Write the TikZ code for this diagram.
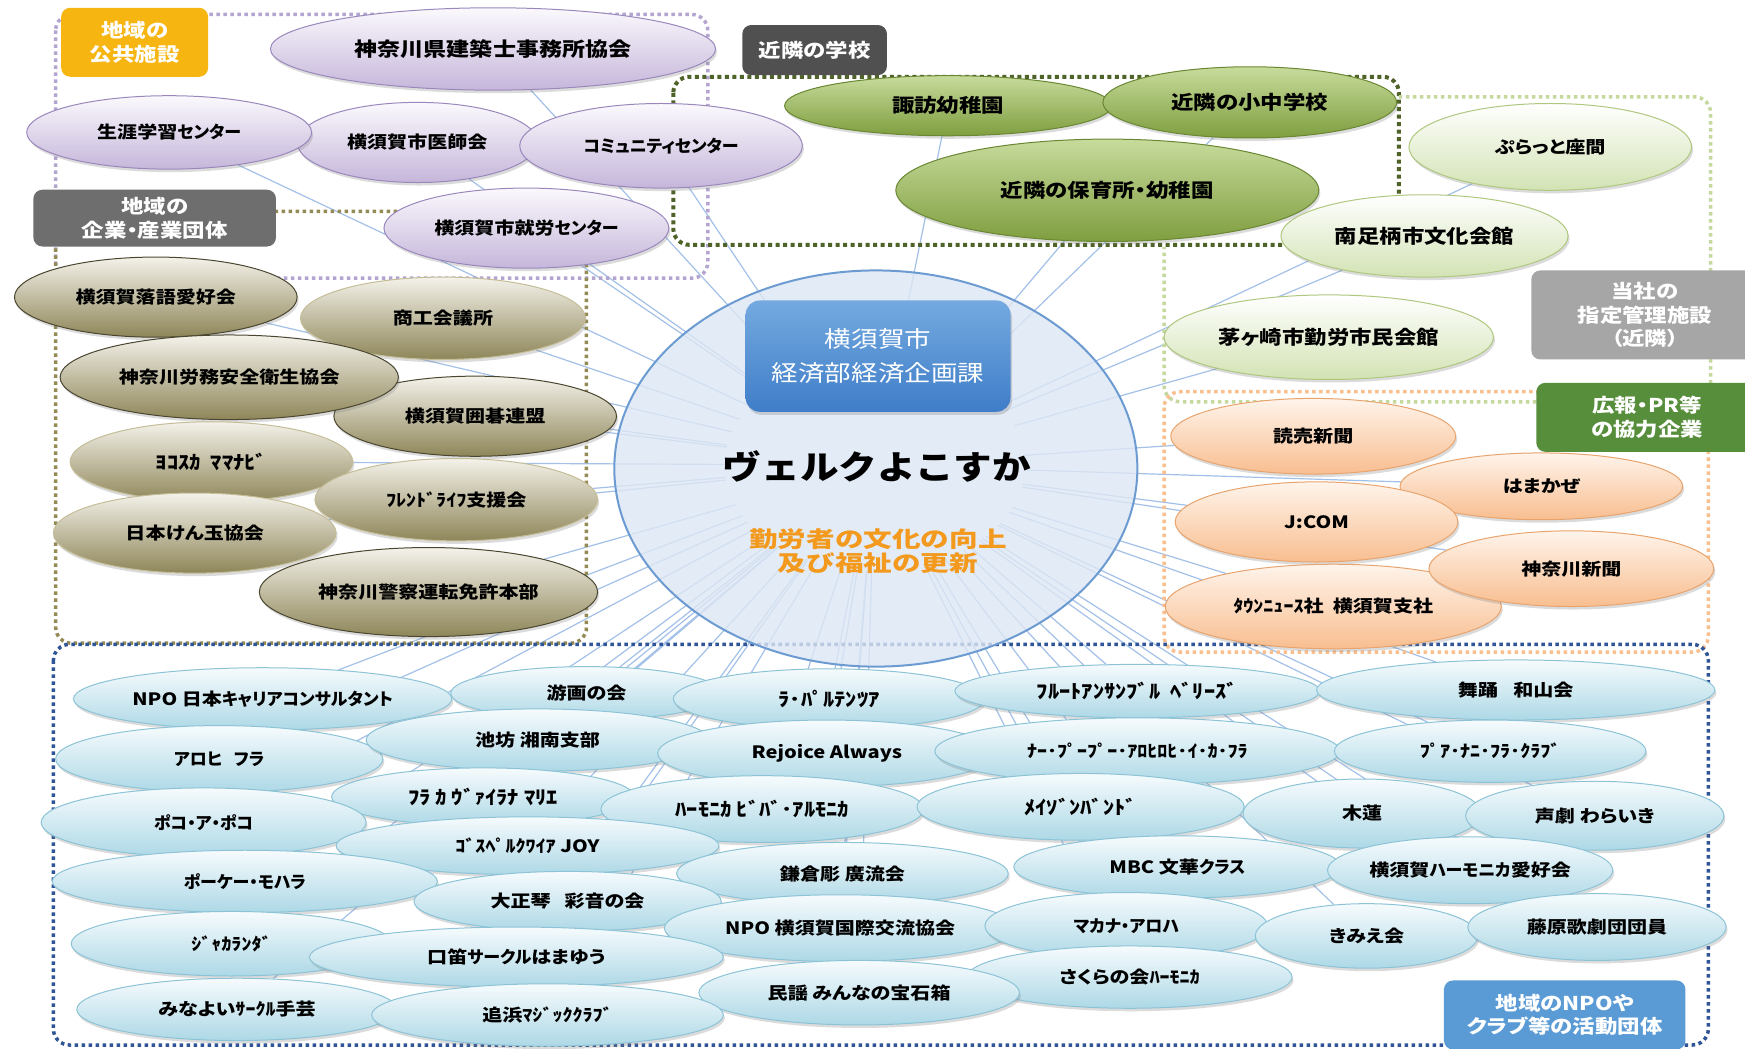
\documentclass[tikz,border=0pt]{standalone}
\usepackage{fontspec}
\usetikzlibrary{shapes.geometric,shadows}
\newfontfamily\jp{Noto Sans CJK JP}[RawFeature=+palt,FakeStretch=1.18]
\newfontfamily\jpk{Noto Sans CJK JP}[RawFeature=+palt,FakeStretch=1.0]
\newfontfamily\jpm{Noto Sans CJK JP}[FakeStretch=1.17]
\newfontfamily\jps{Noto Sans CJK JP}[FakeStretch=1.3]
\newcommand\knx[1]{{\jpk #1}}
\definecolor{puT}{HTML}{FBF9FD}\definecolor{puB}{HTML}{C5B6DA}\definecolor{puD}{HTML}{9A88BC}
\definecolor{olT}{HTML}{F4F2EA}\definecolor{olB}{HTML}{8E8659}\definecolor{olD}{HTML}{4A4630}\definecolor{olL}{HTML}{C4BD97}
\definecolor{dgT}{HTML}{C7DB9C}\definecolor{dgB}{HTML}{7F9E3F}\definecolor{dgD}{HTML}{6A8733}
\definecolor{lgT}{HTML}{FFFFFF}\definecolor{lgB}{HTML}{D3E3B4}\definecolor{lgD}{HTML}{AFC77F}
\definecolor{orT}{HTML}{FFF4EB}\definecolor{orB}{HTML}{F8BE90}\definecolor{orD}{HTML}{E8A46E}
\definecolor{blT}{HTML}{F6FBFD}\definecolor{blB}{HTML}{ADD8E6}\definecolor{blD}{HTML}{8CC3D6}
\definecolor{connC}{HTML}{A3C1E8}
\definecolor{gPu}{HTML}{B3A5CF}\definecolor{gOl}{HTML}{948A54}\definecolor{gDg}{HTML}{4F6228}
\definecolor{gLg}{HTML}{C5D89E}\definecolor{gOr}{HTML}{F9BF8F}\definecolor{gBl}{HTML}{2F5597}
\definecolor{labOr}{HTML}{F7B512}\definecolor{labG1}{HTML}{6E6E6E}\definecolor{labG2}{HTML}{505050}
\definecolor{labG3}{HTML}{A6A6A6}\definecolor{labGr}{HTML}{578E3C}\definecolor{labBl}{HTML}{5B9BD5}
\definecolor{ctrT}{HTML}{74AAE0}\definecolor{ctrB}{HTML}{3F7DC8}
\definecolor{discF}{HTML}{DDE7F4}\definecolor{discD}{HTML}{6C9BD2}\definecolor{subC}{HTML}{F39A1E}
\pgfdeclarelayer{bg}\pgfdeclarelayer{lines}\pgfdeclarelayer{groups}\pgfdeclarelayer{disc}
\pgfsetlayers{bg,lines,groups,disc,main}
\tikzset{
 sz/.style 2 args={minimum width={2.2258pt*#1},minimum height={2.2258pt*#2}},
 bx/.style 2 args={minimum width={1.1129pt*#1},minimum height={1.1129pt*#2}},
 el/.style={ellipse,inner sep=0pt,line width=1pt,font=\jp\bfseries\fontsize{17}{19}\selectfont,
   drop shadow={opacity=0.28,shadow xshift=1.5pt,shadow yshift=-3pt}},
 bigtxt/.style={font=\jp\bfseries\fontsize{19}{21}\selectfont},
 hw/.style={font=\jp\bfseries\fontsize{19}{21}\selectfont},
 pu/.style={el,draw=puD,top color=puT,bottom color=puB},
 ol/.style={el,draw=olL,top color=olT,bottom color=olB},
 olk/.style={el,draw=olD,top color=olT,bottom color=olB},
 dg/.style={el,bigtxt,draw=dgD,top color=dgT,bottom color=dgB},
 lg/.style={el,bigtxt,draw=lgD,top color=lgT,bottom color=lgB},
 orx/.style={el,draw=orD,top color=orT,bottom color=orB},
 bl/.style={el,draw=blD,top color=blT,bottom color=blB},
 lab/.style={rectangle,rounded corners=9pt,inner sep=0pt,text=white,align=center,
   font=\jp\bfseries\fontsize{19}{23.5}\selectfont},
 grp/.style={line width=3.5pt,dash pattern=on 3.5pt off 3.5pt,rounded corners=16pt},
 conn/.style={draw=connC,line width=1.2pt},
}
\begin{document}
\begin{tikzpicture}[x=1.1129pt,y=-1.1129pt]
\useasboundingbox (0,0) rectangle (1568,942);
\begin{pgfonlayer}{bg}
\fill[white] (0,0) rectangle (1568,942);
\end{pgfonlayer}
% group frames
\begin{pgfonlayer}{groups}
\draw[grp,gPu] (50,13) rectangle (636,250);
\draw[grp,gOl] (50,190) rectangle (527,578);
\draw[grp,gDg,line width=4pt,dash pattern=on 4pt off 3.5pt] (605,69) rectangle (1257,220);
\draw[grp,gLg] (1257,87) -- (1537,87) -- (1537,361) -- (1046,361) -- (1046,222);
\draw[grp,gOr] (1046,352) rectangle (1535,586);
\draw[grp,gBl] (48,579) rectangle (1535,939);
\end{pgfonlayer}
% centre
\node[ellipse,inner sep=0pt,minimum width=300pt,minimum height=211pt] (core) at (786,418) {};
\begin{pgfonlayer}{disc}
\node[ellipse,inner sep=0pt,sz={235}{178},fill=discF,fill opacity=0.8,draw=discD,line width=2pt] (disc) at (787,421) {};
\end{pgfonlayer}
\node[rectangle,rounded corners=14pt,bx={238}{100},top color=ctrT,bottom color=ctrB,text=white,align=center,
  font=\jp\fontsize{22.5}{34.5}\selectfont,drop shadow={opacity=0.3,shadow xshift=1.5pt,shadow yshift=-3pt}]
  (ctr) at (789,320) {横須賀市\\経済部経済企画課};
\node[font=\jpm\bfseries\fontsize{33}{36}\selectfont] (title) at (788,419) {ヴェルクよこすか};
\node[font=\jps\bfseries\fontsize{22}{24}\selectfont,text=subC,align=center] (sub) at (789,495) {勤労者の文化の向上\\及び福祉の更新};
% public facilities
\node[pu,sz={200}{37},font=\jp\bfseries\fontsize{19.5}{22}\selectfont] (p1) at (443,44) {神奈川県建築士事務所協会};
\node[pu,sz={108}{36}] (p3) at (375,128) {横須賀市医師会};
\node[pu,sz={128}{33}] (p2) at (152,119) {生涯学習\knx{センター}};
\node[pu,sz={127}{38}] (p4) at (594,131) {\knx{コミュニティセンター}};
\node[pu,sz={128}{36}] (p5) at (473,205) {横須賀市就労\knx{センター}};
% enterprises
\node[ol,sz={128}{37}] (o2) at (398,286) {商工会議所};
\node[olk,sz={127}{36}] (o1) at (140,267) {横須賀落語愛好会};
\node[olk,sz={127}{36}] (o4) at (427,374) {横須賀囲碁連盟};
\node[olk,sz={152}{38}] (o3) at (206,339) {神奈川労務安全衛生協会};
\node[ol,sz={127}{36},hw] (o5) at (190,415) {ﾖｺｽｶ\ \ ﾏﾏﾅﾋﾞ};
\node[ol,sz={127}{37}] (o6) at (410,449) {ﾌﾚﾝﾄﾞﾗｲﾌ支援会};
\node[ol,sz={127}{36}] (o7) at (175,479) {日本けん玉協会};
\node[olk,sz={152}{40}] (o8) at (385,532) {神奈川警察運転免許本部};
% schools
\node[dg,sz={147}{27}] (g1) at (852,95) {諏訪幼稚園};
\node[dg,sz={132}{32}] (g2) at (1123,92) {近隣の小中学校};
\node[dg,sz={190}{46}] (g3) at (995,171) {近隣の保育所・幼稚園};
% managed facilities
\node[lg,sz={127}{39},font=\jp\bfseries\fontsize{17}{19}\selectfont] (l1) at (1393,132) {ぷらっと座間};
\node[lg,sz={129}{37}] (l2) at (1280,212) {南足柄市文化会館};
\node[lg,sz={148}{38}] (l3) at (1194,303) {茅ヶ崎市勤労市民会館};
% PR partners
\node[orx,sz={128}{34}] (r1) at (1180,392) {読売新聞};
\node[orx,sz={127}{30}] (r2) at (1385,437) {はまかぜ};
\node[orx,sz={127}{36}] (r3) at (1183,469) {J:COM};
\node[orx,sz={151}{38}] (r5) at (1198,545) {ﾀｳﾝﾆｭｰｽ社\ \ 横須賀支社};
\node[orx,sz={128}{34}] (r4) at (1412,511) {神奈川新聞};
% NPO / clubs
\node[bl,sz={170}{28}] (b1) at (236,628) {NPO 日本\knx{キャリアコンサルタント}};
\node[bl,sz={122}{24}] (b2) at (527,623) {游画の会};
\node[bl,sz={140}{27},hw] (b3) at (745,628) {ﾗ･ﾊﾟﾙﾃﾝﾂｱ};
\node[bl,sz={164}{24},hw] (b4) at (1022,621) {ﾌﾙｰﾄｱﾝｻﾝﾌﾞﾙ\ \ ﾍﾞﾘｰｽﾞ};
\node[bl,sz={179}{27}] (b5) at (1362,620) {舞踊\hspace{0.9em}和山会};
\node[bl,sz={147}{30}] (b6) at (197,682) {\knx{アロヒ\ \ \ フラ}};
\node[bl,sz={154}{28}] (b7) at (483,665) {池坊\ 湘南支部};
\node[bl,sz={152}{30}] (b8) at (743,677) {Rejoice Always};
\node[bl,sz={182}{30}] (b9) at (1022,675) {ﾅｰ･ﾌﾟｰﾌﾟｰ･ｱﾛﾋﾛﾋ･ｲ･ｶ･ﾌﾗ};
\node[bl,sz={140}{28}] (b10) at (1339,675) {ﾌﾟｱ･ﾅﾆ･ﾌﾗ･ｸﾗﾌﾞ};
\node[bl,sz={136}{26},hw] (b11) at (434,716) {ﾌﾗ\ ｶ\ ｳﾞｧｲﾗﾅ\ ﾏﾘｴ};
\node[bl,sz={146}{31}] (b12) at (183,739) {\knx{ポコ・ア・ポコ}};
\node[bl,sz={145}{30},hw] (b13) at (685,727) {ﾊｰﾓﾆｶ\ ﾋﾞﾊﾞ･ｱﾙﾓﾆｶ};
\node[bl,sz={147}{30},hw] (b14) at (971,725) {ﾒｲｿﾞﾝﾊﾞﾝﾄﾞ};
\node[bl,sz={107}{31}] (b15) at (1224,731) {木蓮};
\node[bl,sz={116}{31}] (b16) at (1433,733) {声劇\ わらいき};
\node[bl,sz={172}{26}] (b17) at (474,760) {ｺﾞｽﾍﾟﾙｸﾜｲｱ JOY};
\node[bl,sz={173}{28}] (b18) at (220,792) {\knx{ポーケー・モハラ}};
\node[bl,sz={149}{28}] (b19) at (757,785) {鎌倉彫\ 廣流会};
\node[bl,sz={147}{28}] (b20) at (1058,779) {MBC 文華\knx{クラス}};
\node[bl,sz={128}{30}] (b21) at (1321,782) {横須賀\knx{ハーモニカ}愛好会};
\node[bl,sz={138}{27}] (b22) at (510,810) {大正琴\ \ \ 彩音の会};
\node[bl,sz={144}{29}] (b23) at (208,848) {ｼﾞｬｶﾗﾝﾀﾞ};
\node[bl,sz={158}{30}] (b24) at (755,834) {NPO 横須賀国際交流協会};
\node[bl,sz={127}{30}] (b25) at (1012,832) {\knx{マカナ・アロハ}};
\node[bl,sz={100}{29}] (b26) at (1228,841) {きみえ会};
\node[bl,sz={116}{30}] (b27) at (1435,833) {藤原歌劇団団員};
\node[bl,sz={186}{27}] (b28) at (464,860) {口笛\knx{サークル}はまゆう};
\node[bl,sz={146}{28}] (b29) at (1015,878) {さくらの会ﾊｰﾓﾆｶ};
\node[bl,sz={144}{28}] (b30) at (213,907) {みなよいｻｰｸﾙ手芸};
\node[bl,sz={144}{29}] (b31) at (772,892) {民謡\ みんなの宝石箱};
\node[bl,sz={158}{28}] (b32) at (492,912) {追浜ﾏｼﾞｯｸｸﾗﾌﾞ};
% category labels
\node[lab,bx={132}{62},fill=labOr] (lab1) at (121,38) {地域の\\公共施設};
\node[lab,bx={218}{51},fill=labG1] (lab2) at (139,196) {地域の\\企業・産業団体};
\node[lab,bx={130}{45},fill=labG2] (lab3) at (732,45) {近隣の学校};
\node[lab,bx={204}{80},fill=labG3] (lab4) at (1478,283) {当社の\\指定管理施設\\（近隣）};
\node[lab,bx={199}{62},fill=labGr] (lab5) at (1480,375) {広報・PR等\\の協力企業};
\node[lab,bx={217}{62},fill=labBl] (lab6) at (1406,912) {地域のNPOや\\クラブ等の活動団体};
% connectors
\begin{pgfonlayer}{lines}
\foreach \n in {p1,p2,p3,p4,p5,o1,o2,o3,o4,o5,o6,o7,o8,g1,g2,g3,l1,l2,l3,r1,r2,r3,r4,r5,
  b1,b2,b3,b4,b5,b6,b7,b8,b9,b10,b11,b12,b13,b14,b15,b16,b17,b18,b19,b20,b21,b22,b23,b24,b25,b26,b27,b28,b29,b30,b31,b32}
  \draw[conn] (core) -- (\n);
\end{pgfonlayer}
\end{tikzpicture}
\end{document}
